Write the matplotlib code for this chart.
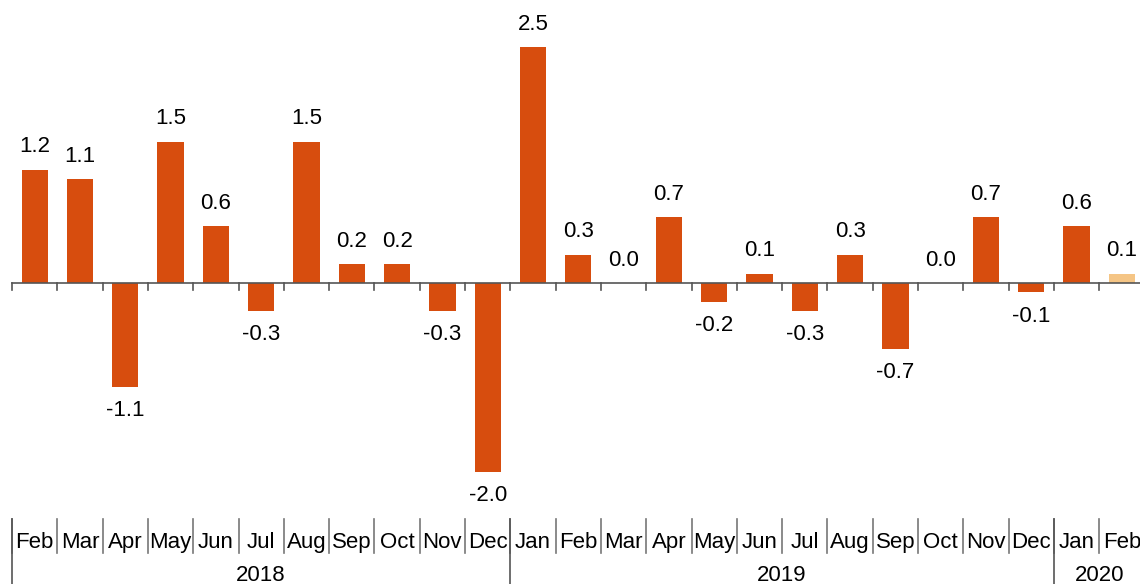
import matplotlib.pyplot as plt

plt.rcParams['font.family'] = ['Liberation Sans', 'DejaVu Sans']

# --- Data ---
months = ["Feb", "Mar", "Apr", "May", "Jun", "Jul", "Aug", "Sep", "Oct", "Nov", "Dec",
          "Jan", "Feb", "Mar", "Apr", "May", "Jun", "Jul", "Aug", "Sep", "Oct", "Nov", "Dec",
          "Jan", "Feb"]
values = [1.2, 1.1, -1.1, 1.5, 0.6, -0.3, 1.5, 0.2, 0.2, -0.3, -2.0,
          2.5, 0.3, 0.0, 0.7, -0.2, 0.1, -0.3, 0.3, -0.7, 0.0, 0.7, -0.1,
          0.6, 0.1]
years = ["2018", "2019", "2020"]
year_counts = [11, 12, 2]

main_color = "#d74d0e"
last_color = "#f5c585"
colors = [main_color] * (len(values) - 1) + [last_color]

fig = plt.figure(figsize=(11.4, 5.84), dpi=100)
ax = fig.add_axes([0, 0, 1, 1])

x = list(range(len(values)))
ax.bar(x, values, width=0.58, color=colors, zorder=2)

# value labels
for xi, v in zip(x, values):
    off = 16.5 if v >= 0 else -17
    ax.annotate(f"{v:.1f}", (xi, v), xytext=(0, off), textcoords="offset points",
                ha="center", va="center", fontsize=16)

# zero axis line and ticks
n = len(values)
ax.plot([-0.5, n], [0, 0], color="#555555", lw=1.2, zorder=3)
for b in range(n + 1):
    ax.plot([b - 0.5, b - 0.5], [0, -0.075], color="#555555", lw=1.2)

# month labels and separators
y_lab = -2.75
for i, m in enumerate(months):
    ax.text(i, y_lab, m, ha="center", va="center", fontsize=16)
    ax.plot([i - 0.5, i - 0.5], [-2.5, -2.86], color="#777777", lw=1.2)

# year labels and separators
start = 0
for yr, cnt in zip(years, year_counts):
    ax.plot([start - 0.5, start - 0.5], [-2.5, -3.3], color="#555555", lw=1.2)
    ax.text(start - 0.5 + cnt / 2, -3.1, yr, ha="center", va="center", fontsize=16)
    start += cnt

ax.set_xlim(-0.765, 24.40)
ax.set_ylim(-3.19, 3.0)
ax.axis("off")

fig.savefig("out.png", dpi=100)
